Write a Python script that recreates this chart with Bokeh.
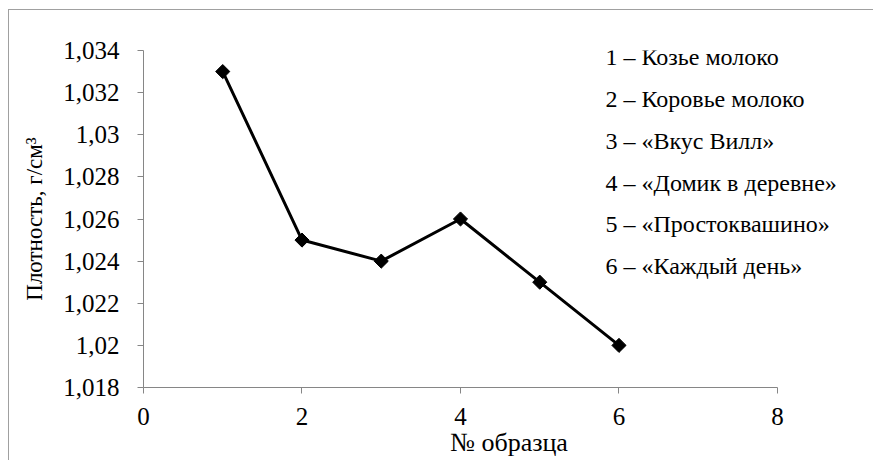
import math
from bokeh.plotting import figure
from bokeh.models import FixedTicker, CustomJSTickFormatter, ColumnDataSource, Range1d, LabelSet
from bokeh.core.properties import value
from bokeh.embed import file_html
from bokeh.resources import INLINE

samples = [1, 2, 3, 4, 5, 6]
density = [1.033, 1.025, 1.024, 1.026, 1.023, 1.020]
y_ticks = [1.018, 1.020, 1.022, 1.024, 1.026, 1.028, 1.030, 1.032, 1.034]
x_ticks = [0, 2, 4, 6, 8]
legend_labels = ["1 – Козье молоко", "2 – Коровье молоко", "3 – «Вкус Вилл»",
                 "4 – «Домик в деревне»", "5 – «Простоквашино»", "6 – «Каждый день»"]
legend_x = [5.83] * 6
legend_y = [1.03367, 1.03168, 1.02972, 1.02773, 1.02574, 1.02378]

FONT = "Liberation Serif, Times New Roman, serif"

p = figure(width=865, height=451, output_backend="svg", toolbar_location=None,
           x_range=Range1d(0, 9.224), y_range=Range1d(1.018, 1.034),
           min_border_left=134, min_border_right=0, min_border_top=40, min_border_bottom=74)
p.styles = {"margin-left": "8px", "margin-top": "9px",
            "border-left": "1px solid #a0a0a0", "border-top": "1px solid #a0a0a0"}
p.outline_line_color = None
p.grid.visible = False

p.line(samples, density, line_color="black", line_width=3)
p.scatter(samples, density, marker="square", angle=math.pi / 4, size=10,
          fill_color="black", line_color="black")

src = ColumnDataSource(dict(x=legend_x, y=legend_y, t=legend_labels))
p.add_layout(LabelSet(x="x", y="y", text="t", source=src, text_font=value(FONT), text_font_size=value("24px"),
                      text_baseline="middle", text_align="left", text_color="black"))

for ax in (p.xaxis[0], p.yaxis[0]):
    ax.axis_line_color = "#868686"
    ax.major_tick_line_color = "#868686"
    ax.major_tick_in = 0
    ax.major_tick_out = 6
    ax.minor_tick_line_color = None
    ax.major_label_text_font = FONT
    ax.major_label_text_font_size = "25px"
    ax.major_label_text_color = "black"
    ax.axis_label_text_font = FONT
    ax.axis_label_text_font_style = "normal"
    ax.axis_label_text_color = "black"

p.xaxis.axis_label_text_font_size = "26px"
p.yaxis.axis_label_text_font_size = "23px"

p.xaxis.bounds = (0, 8)
p.xaxis.ticker = FixedTicker(ticks=x_ticks)
p.yaxis.ticker = FixedTicker(ticks=y_ticks)
p.yaxis.formatter = CustomJSTickFormatter(code="return (Math.round(tick*1000)/1000).toString().replace('.', ',');")
p.xaxis.major_label_standoff = 14
p.yaxis.major_label_standoff = 18
p.xaxis.axis_label = "№ образца"
p.yaxis.axis_label = "Плотность, г/см³"
p.xaxis.axis_label_standoff = 0
p.yaxis.axis_label_standoff = 13

open("out.html", "w").write(file_html(p, INLINE))
